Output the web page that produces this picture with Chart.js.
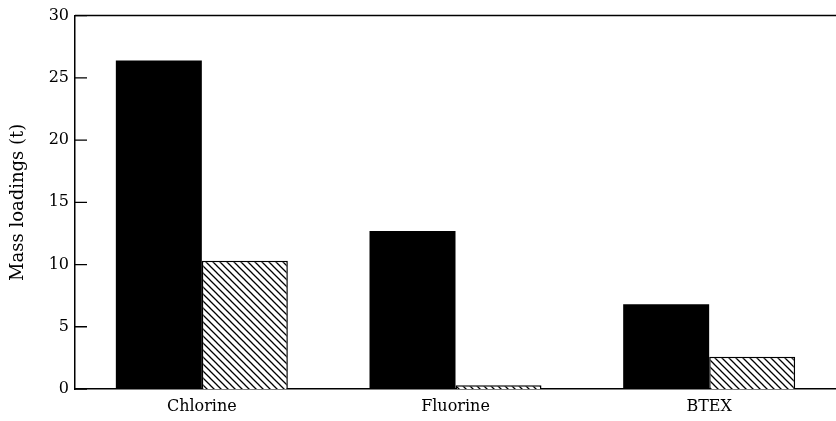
<!DOCTYPE html>
<html>
<head>
<meta charset="utf-8">
<script src="https://cdn.jsdelivr.net/npm/chart.js@4/dist/chart.umd.min.js"></script>
<style>
html,body{margin:0;padding:0;background:#fff;}
#wrap{width:836px;height:421px;position:relative;}
</style>
</head>
<body>
<div id="wrap"><canvas id="c"></canvas></div>
<script>
const categories = ['Chlorine', 'Fluorine', 'BTEX'];
const solidValues = [26.4, 12.7, 6.8];
const hatchedValues = [10.3, 0.3, 2.6];
const yTickValues = [0, 5, 10, 15, 20, 25, 30];
const yTitle = 'Mass loadings (t)';

function makeHatch() {
  const s = 7;
  const pc = document.createElement('canvas');
  pc.width = s; pc.height = s;
  const g = pc.getContext('2d');
  g.fillStyle = '#fff';
  g.fillRect(0, 0, s, s);
  g.strokeStyle = '#000';
  g.lineWidth = 1.3;
  g.beginPath();
  g.moveTo(-1, -1); g.lineTo(s + 1, s + 1);
  g.moveTo(-1, s - 1); g.lineTo(1, s + 1);
  g.moveTo(s - 1, -1); g.lineTo(s + 1, 1);
  g.stroke();
  return g.createPattern(pc, 'repeat');
}

const framePlugin = {
  id: 'frame',
  afterDraw(chart) {
    const ctx = chart.ctx;
    const a = chart.chartArea;
    const y = chart.scales.y;
    ctx.save();
    ctx.strokeStyle = '#000';
    ctx.lineWidth = 1.5;
    ctx.beginPath();
    ctx.moveTo(a.left, a.top);
    ctx.lineTo(chart.width, a.top);
    ctx.stroke();
    ctx.lineWidth = 1.3;
    ctx.beginPath();
    y.ticks.forEach(t => {
      const py = y.getPixelForValue(t.value);
      ctx.moveTo(a.left, py);
      ctx.lineTo(a.left + 12, py);
    });
    ctx.stroke();
    ctx.restore();
  }
};

new Chart(document.getElementById('c'), {
  type: 'bar',
  data: {
    labels: categories,
    datasets: [
      { label: 'A', data: solidValues, backgroundColor: '#000', borderWidth: 0 },
      { label: 'B', data: hatchedValues, backgroundColor: makeHatch(), borderColor: '#000', borderWidth: 1.5 }
    ]
  },
  options: {
    responsive: true,
    maintainAspectRatio: false,
    animation: false,
    devicePixelRatio: 1,
    layout: { padding: { top: 14, right: 0, left: 0, bottom: 0 } },
    plugins: { legend: { display: false }, tooltip: { enabled: false } },
    datasets: { bar: { categoryPercentage: 0.678, barPercentage: 1.0 } },
    scales: {
      x: {
        grid: { display: false, drawTicks: false },
        border: { display: true, color: '#000', width: 1.5 },
        ticks: { color: '#000', padding: 8, font: { family: 'DejaVu Serif', size: 16 } },
        afterFit(s) { s.height = 32; }
      },
      y: {
        min: 0, max: 30,
        afterBuildTicks(s) { s.ticks = yTickValues.map(v => ({ value: v })); },
        grid: { display: false, drawTicks: false },
        border: { display: true, color: '#000', width: 1.5 },
        ticks: { color: '#000', padding: 6, font: { family: 'DejaVu Serif', size: 16 } },
        title: { display: true, text: yTitle, color: '#000', padding: { top: 8, bottom: 0 }, font: { family: 'DejaVu Serif', size: 18 } },
        afterFit(s) { s.width = 75; }
      }
    }
  },
  plugins: [framePlugin]
});
</script>
</body>
</html>
